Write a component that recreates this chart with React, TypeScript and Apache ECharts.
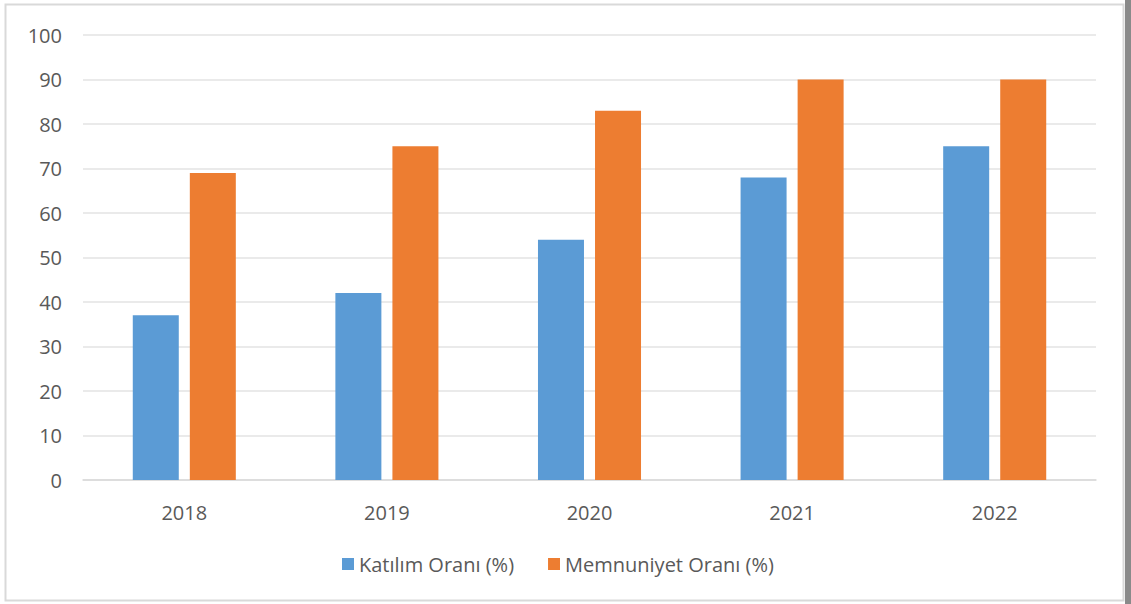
import React, { useEffect, useRef } from "react";
import * as echarts from "echarts";

const categories = ["2018", "2019", "2020", "2021", "2022"];
const katilim = [37, 42, 54, 68, 75];
const memnuniyet = [69, 75, 83, 90, 90];
const seriesNames = ["Katılım Oranı (%)", "Memnuniyet Oranı (%)"];

export default function App() {
  const ref = useRef<HTMLDivElement>(null);
  useEffect(() => {
    if (!ref.current) return;
    const chart = echarts.init(ref.current, undefined, { renderer: "svg" });
    const font = "'Open Sans', 'Noto Sans', sans-serif";
    chart.setOption({
      animation: false,
      backgroundColor: "#ffffff",
      graphic: [
        {
          type: "rect",
          shape: { x: 5.5, y: 4.5, width: 1118, height: 596 },
          style: { fill: "none", stroke: "#d9d9d9", lineWidth: 2 },
          silent: true,
        },
        {
          type: "rect",
          shape: { x: 1125, y: 0, width: 6, height: 604 },
          style: { fill: "#8a8a8a" },
          silent: true,
        },
      ],
      grid: { left: 83, right: 35, top: 35, bottom: 124 },
      legend: {
        data: seriesNames,
        top: 549,
        left: 337,
        itemWidth: 12,
        itemHeight: 12,
        itemGap: 34,
        icon: "rect",
        textStyle: { color: "#595959", fontSize: 20, fontFamily: font },
      },
      xAxis: {
        type: "category",
        data: categories,
        axisLine: { lineStyle: { color: "#d9d9d9", width: 1.5 } },
        axisTick: { show: false },
        axisLabel: { color: "#595959", fontSize: 20, fontFamily: font, margin: 22 },
      },
      yAxis: {
        type: "value",
        min: 0,
        max: 100,
        interval: 10,
        axisLine: { show: false },
        axisTick: { show: false },
        axisLabel: { color: "#595959", fontSize: 20, fontFamily: font, margin: 21 },
        splitLine: { lineStyle: { color: "#e3e3e3", width: 1.5 } },
      },
      series: [
        {
          name: seriesNames[0],
          type: "bar",
          data: katilim,
          barWidth: 46,
          barGap: "24%",
          itemStyle: { color: "#5b9bd5" },
        },
        {
          name: seriesNames[1],
          type: "bar",
          data: memnuniyet,
          barWidth: 46,
          barGap: "24%",
          itemStyle: { color: "#ed7d31" },
        },
      ],
    });
    return () => chart.dispose();
  }, []);
  return (
    <div
      ref={ref}
      style={{ position: "absolute", left: 0, top: 0, width: 1131, height: 604 }}
    />
  );
}
